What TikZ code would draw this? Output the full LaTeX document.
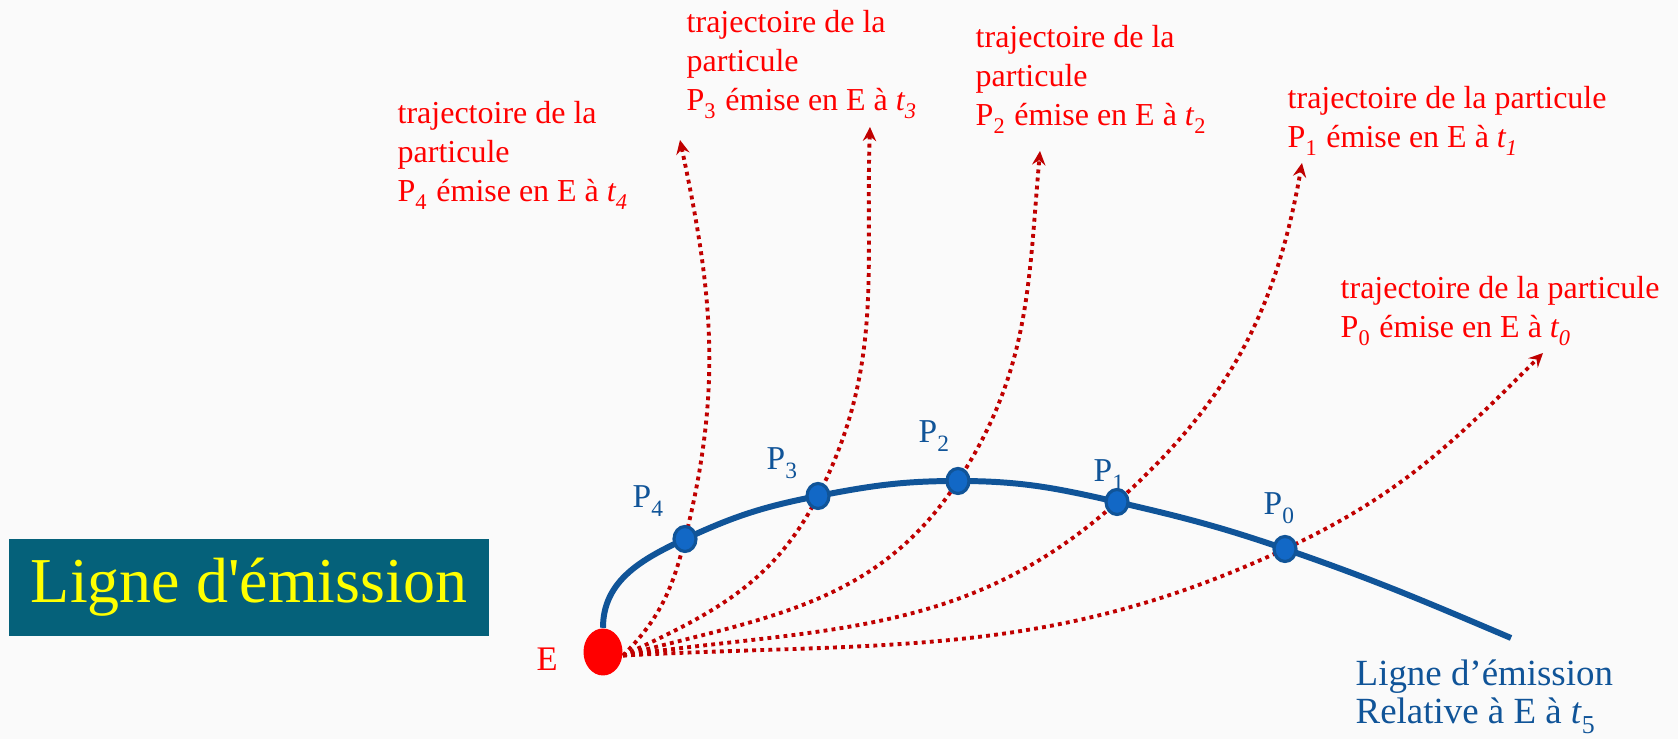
\documentclass[tikz,border=0pt]{standalone}
\usepackage{fontspec}
\setmainfont{Liberation Serif}
\usepackage{tikz}
\usetikzlibrary{shapes.geometric,arrows.meta,backgrounds}
\definecolor{emisblue}{RGB}{16,84,152}
\definecolor{emisdot}{RGB}{18,104,198}
\definecolor{trajred}{RGB}{192,0,0}
\definecolor{labelred}{RGB}{255,0,0}
\definecolor{titleteal}{RGB}{5,97,122}
\definecolor{titleyellow}{RGB}{255,255,0}
\definecolor{paper}{RGB}{250,250,250}
\newcommand{\lowidx}[1]{\raisebox{-0.25ex}{\textsubscript{#1}}}

\begin{document}
\begin{tikzpicture}[
  x=0.1mm, y=0.1mm,
  every node/.style={inner sep=0pt},
  trajtext/.style={anchor=north west, align=left, text=labelred, font=\fontsize{9.1}{11.1}\selectfont},
  plabel/.style={anchor=base west, text=emisblue, font=\fontsize{9.5}{11}\selectfont},
  pdot/.style={ellipse, draw=emisblue, fill=emisdot, line width=0.9pt, minimum width=0.22cm, minimum height=0.25cm},
  edot/.style={ellipse, fill=red, minimum width=0.39cm, minimum height=0.47cm},
  traj/.style={draw=trajred, line width=1.1pt, dash pattern=on 1.1pt off 1.2pt, -{Stealth[length=4pt,width=3.8pt,inset=1.4pt]}},
  emline/.style={draw=emisblue, line width=1.7pt}
]
\useasboundingbox (0,0) rectangle (1678,739);

% titre
\node[fill=titleteal, text=titleyellow, minimum width=4.8cm, minimum height=0.97cm,
      font=\fontsize{18.2}{20}\selectfont] (titre) at (249,151.5) {Ligne d\textquotesingle émission};

% point d'emission E et particules P0..P4
\node[edot] (E) at (603,87) {};
\node[anchor=base west, text=labelred, font=\fontsize{9.8}{11}\selectfont] (Elbl) at (536,68) {E};
\node[pdot] (P4) at (685,200) {};
\node[pdot] (P3) at (818,243) {};
\node[pdot] (P2) at (958,258) {};
\node[pdot] (P1) at (1117,237) {};
\node[pdot] (P0) at (1285,190) {};
\node[plabel] (P4lbl) at (632,231) {P\lowidx{4}};
\node[plabel] (P3lbl) at (766,269) {P\lowidx{3}};
\node[plabel] (P2lbl) at (918,296) {P\lowidx{2}};
\node[plabel] (P1lbl) at (1093,257) {P\lowidx{1}};
\node[plabel] (P0lbl) at (1263,224) {P\lowidx{0}};

% bouts des trajectoires
\coordinate (t4) at (680,599);
\coordinate (t3) at (870,612);
\coordinate (t2) at (1040,588);
\coordinate (t1) at (1302,576);
\coordinate (t0) at (1543,386);
\coordinate (fin) at (1511,101);

% textes des trajectoires
\node[trajtext] (T4) at (397,638) {trajectoire de la\\particule\\P\lowidx{4} émise en E à \textit{t\lowidx{4}}};
\node[trajtext] (T3) at (686,729) {trajectoire de la\\particule\\P\lowidx{3} émise en E à \textit{t\lowidx{3}}};
\node[trajtext] (T2) at (975,714) {trajectoire de la\\particule\\P\lowidx{2} émise en E à \textit{t}\lowidx{2}};
\node[trajtext] (T1) at (1287,653) {trajectoire de la particule\\P\lowidx{1} émise en E à \textit{t\lowidx{1}}};
\node[trajtext] (T0) at (1340,463) {trajectoire de la particule\\P\lowidx{0} émise en E à \textit{t\lowidx{0}}};
\node[anchor=north west, align=left, text=emisblue, font=\fontsize{10.5}{10.8}\selectfont] (lbl) at (1355,80)
      {Ligne d’émission\\Relative à E à \textit{t}\lowidx{5}};

\begin{scope}[on background layer]
  \fill[paper] (0,0) rectangle (1678,739);
  % trajectoires des particules
  \draw[traj] (E.-10) to[out=45,in=-104] (P4.center) to[out=76,in=-78] (t4);
  \draw[traj] (E.-10) to[out=25,in=-117] (P3.center) to[out=63,in=-92] (t3);
  \draw[traj] (E.-10) to[out=15,in=-123] (P2.center) to[out=57,in=-95] (t2);
  \draw[traj] (E.-10) to[out=8,in=-138] (P1.center) to[out=42,in=-100] (t1);
  \draw[traj] (E.-10) to[out=3,in=-155] (P0.center) to[out=25,in=-135] (t0);
  % ligne d'emission
  \draw[emline] (E.north) to[out=90,in=-155] (P4.center) to[out=25,in=-169] (P3.center)
      to[out=11,in=180] (P2.center) to[out=0,in=167] (P1.center)
      to[out=-13,in=161] (P0.center) to[out=-19,in=157] (fin);
\end{scope}
\end{tikzpicture}
\end{document}
